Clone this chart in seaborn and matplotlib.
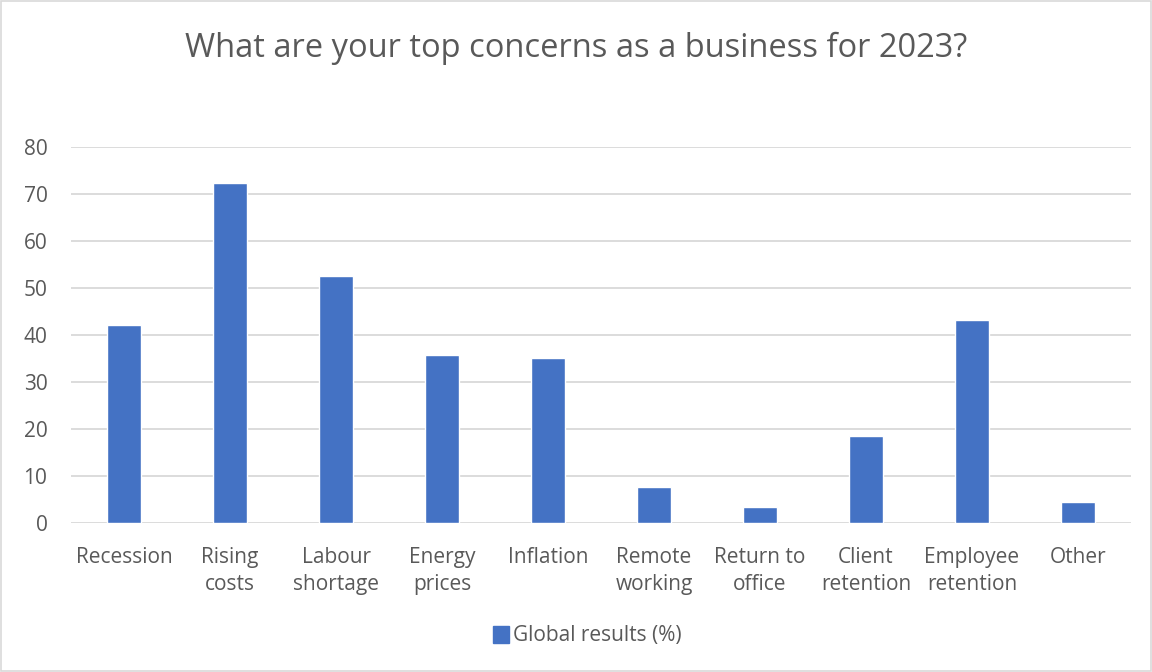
import pandas as pd
import matplotlib.pyplot as plt
import seaborn as sns
from matplotlib.patches import Rectangle, Patch

# Chart data
categories = ['Recession', 'Rising\ncosts', 'Labour\nshortage', 'Energy\nprices', 'Inflation',
              'Remote\nworking', 'Return to\noffice', 'Client\nretention', 'Employee\nretention', 'Other']
global_results = [42.1, 72.3, 52.6, 35.7, 35.1, 7.7, 3.5, 18.6, 43.1, 4.4]
y_ticks = [0, 10, 20, 30, 40, 50, 60, 70, 80]

df = pd.DataFrame({'concern': categories, 'value': global_results})

sns.set_theme(style='white')
plt.rcParams['font.family'] = ['Open Sans', 'DejaVu Sans']

text_col = '#595959'
bar_col = '#4472C4'

fig = plt.figure(figsize=(11.52, 6.72), dpi=100)
ax = fig.add_axes([71 / 1152, 1 - 523 / 672, 1060 / 1152, 376 / 672])

sns.barplot(data=df, x='concern', y='value', color=bar_col, width=0.32,
            saturation=1, ax=ax, zorder=3)

ax.set_ylim(0, 80)
ax.set_yticks(y_ticks)
ax.set_xlim(-0.5, len(categories) - 0.5)
ax.yaxis.grid(True, color='#D9D9D9', linewidth=1.3, zorder=0)
ax.set_axisbelow(True)
for s in ax.spines.values():
    s.set_visible(False)
ax.tick_params(axis='both', length=0, labelsize=15, labelcolor=text_col)
ax.tick_params(axis='y', pad=17)
ax.tick_params(axis='x', pad=17)
for lbl in ax.get_xticklabels():
    lbl.set_linespacing(1.4)
ax.set_xlabel('')
ax.set_ylabel('')

fig.text(0.5, 1 - 48 / 672, 'What are your top concerns as a business for 2023?',
         ha='center', va='center', fontsize=23.5, color=text_col)

handle = Patch(facecolor=bar_col, edgecolor=bar_col)
fig.legend([handle], ['Global results (%)'], loc='center', bbox_to_anchor=(0.51, 1 - 636 / 672),
           frameon=False, fontsize=15, labelcolor=text_col, handlelength=0.75,
           handleheight=0.9, handletextpad=0.2)

# Light chart border
fig.patches.append(Rectangle((0.001, 0.001), 0.998, 0.998, transform=fig.transFigure,
                             fill=False, edgecolor='#D9D9D9', linewidth=1.2))

plt.savefig('out.png', dpi=100)
